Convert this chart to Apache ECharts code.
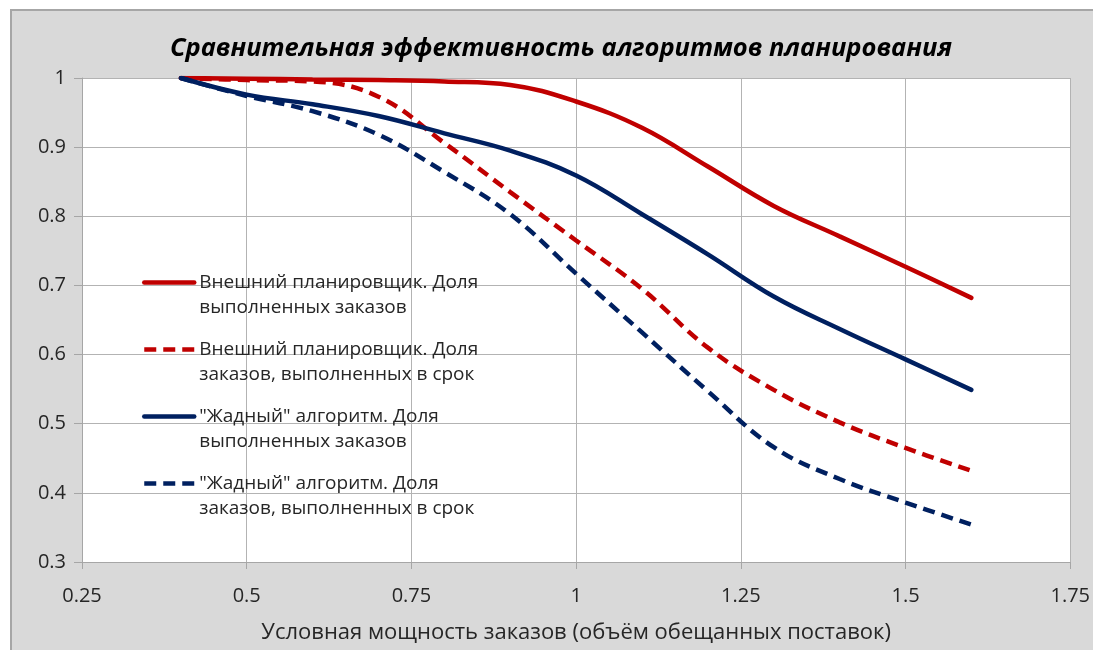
<!DOCTYPE html>
<html>
<head>
<meta charset="utf-8">
<script src="https://cdn.jsdelivr.net/npm/echarts@6/dist/echarts.min.js"></script>
<style>
html,body{margin:0;padding:0;background:#ffffff;}
#chart{width:1093px;height:650px;}
</style>
</head>
<body>
<div id="chart"></div>
<script>
const title = 'Сравнительная эффективность алгоритмов планирования';
const xAxisName = 'Условная мощность заказов (объём обещанных поставок)';
const xValues = [0.4, 0.5, 0.6, 0.7, 0.8, 0.9, 1.0, 1.1, 1.2, 1.3, 1.4, 1.5, 1.6];
const seriesNames = [
  'Внешний планировщик. Доля\nвыполненных заказов',
  'Внешний планировщик. Доля\nзаказов, выполненных в срок',
  '"Жадный" алгоритм. Доля\nвыполненных заказов',
  '"Жадный" алгоритм. Доля\nзаказов, выполненных в срок'
];
const extDone   = [1.0, 0.999, 0.998, 0.997, 0.995, 0.99, 0.966, 0.928, 0.872, 0.815, 0.771, 0.727, 0.682];
const extOnTime = [1.0, 0.997, 0.995, 0.973, 0.906, 0.835, 0.765, 0.695, 0.61, 0.549, 0.502, 0.465, 0.432];
const grdDone   = [1.0, 0.976, 0.962, 0.945, 0.92, 0.895, 0.859, 0.803, 0.745, 0.684, 0.637, 0.593, 0.549];
const grdOnTime = [1.0, 0.974, 0.952, 0.918, 0.864, 0.803, 0.717, 0.632, 0.547, 0.466, 0.42, 0.386, 0.354];
const xTicks = {min: 0.25, max: 1.75, interval: 0.25};
const yTicks = {min: 0.3, max: 1.0, interval: 0.1};

const RED = '#c00000', NAVY = '#002060';
const FONT = 'Open Sans';
function pairs(ys){ return xValues.map((x,i)=>[x, ys[i]]); }
function mk(name, ys, color, dashed){
  return {
    name: name, type: 'line', data: pairs(ys), smooth: 0.4,
    symbol: 'none', showSymbol: false,
    lineStyle: {color: color, width: 4.5, type: dashed ? [12, 7] : 'solid', cap: dashed ? 'butt' : 'round'},
    itemStyle: {color: color},
    emphasis: {disabled: true}
  };
}
const chart = echarts.init(document.getElementById('chart'), null, {renderer: 'canvas'});
chart.setOption({
  animation: false,
  backgroundColor: '#ffffff',
  graphic: [{
    type: 'rect', z: -10, silent: true,
    shape: {x: 11, y: 10, width: 1100, height: 660},
    style: {fill: '#d9d9d9', stroke: '#a6a6a6', lineWidth: 2}
  }],
  title: {
    text: title, left: 556, top: 31, textAlign: 'center',
    textStyle: {fontFamily: FONT, fontStyle: 'italic', fontWeight: 'bold', fontSize: 25.5, color: '#000000'}
  },
  grid: {left: 82, right: 21, top: 78, bottom: 88, show: true, backgroundColor: '#ffffff', borderWidth: 0},
  legend: {
    left: 142, top: 245, orient: 'vertical', padding: 0,
    itemWidth: 50, itemHeight: 14, itemGap: -8,
    itemStyle: {opacity: 0},
    lineStyle: {width: 4.5},
    formatter: name => '\n' + name,
    textStyle: {fontFamily: FONT, fontSize: 19, color: '#262626', lineHeight: 25},
    data: seriesNames
  },
  xAxis: {
    type: 'value', min: xTicks.min, max: xTicks.max, interval: xTicks.interval,
    name: xAxisName, nameLocation: 'middle', nameGap: 60,
    nameTextStyle: {fontFamily: FONT, fontSize: 22, color: '#262626'},
    axisLine: {show: true, lineStyle: {color: '#a6a6a6', width: 1}},
    axisTick: {show: true, length: 7, lineStyle: {color: '#a6a6a6'}},
    axisLabel: {fontFamily: FONT, fontSize: 20, color: '#262626', margin: 24, formatter: v => String(+v.toFixed(2))},
    splitLine: {show: true, lineStyle: {color: '#b3b3b3', width: 1}}
  },
  yAxis: {
    type: 'value', min: yTicks.min, max: yTicks.max, interval: yTicks.interval,
    axisLine: {show: true, lineStyle: {color: '#a6a6a6', width: 1}},
    axisTick: {show: true, length: 8, lineStyle: {color: '#a6a6a6'}},
    axisLabel: {fontFamily: FONT, fontSize: 20, color: '#262626', margin: 16, formatter: v => String(+v.toFixed(1))},
    splitLine: {show: true, lineStyle: {color: '#b3b3b3', width: 1}}
  },
  series: [
    mk(seriesNames[0], extDone, RED, false),
    mk(seriesNames[1], extOnTime, RED, true),
    mk(seriesNames[2], grdDone, NAVY, false),
    mk(seriesNames[3], grdOnTime, NAVY, true)
  ]
});
</script>
</body>
</html>
